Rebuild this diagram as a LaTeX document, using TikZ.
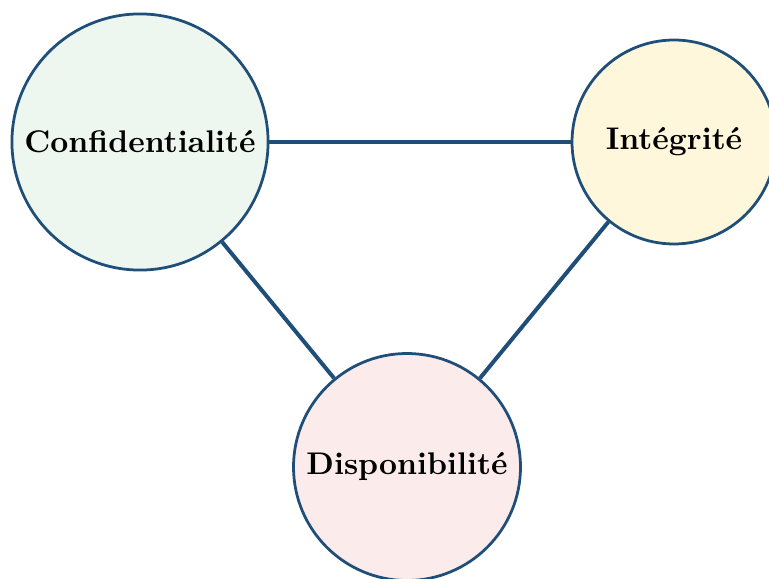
\documentclass[tikz,border=0pt]{standalone}
\usepackage{tikz}

\definecolor{cianavy}{RGB}{31,78,121}
\definecolor{confgreen}{RGB}{237,247,239}
\definecolor{integyellow}{RGB}{255,247,220}
\definecolor{disppink}{RGB}{251,235,235}

\begin{document}
\begin{tikzpicture}[x=0.326pt,y=-0.326pt]
  \tikzset{pillarstyle/.style={circle, draw=cianavy, line width=0.9pt, inner sep=0pt, font=\fontsize{10.2}{12}\selectfont\bfseries, align=center},
           linkstyle/.style={draw=cianavy, line width=1.3pt}}
  \useasboundingbox (0,0) rectangle (769,579);
  % The three pillars
  \node (conf) [pillarstyle, fill=confgreen, minimum size=83.5pt] at (140,142) {Confidentialité};
  \node (integ) [pillarstyle, fill=integyellow, minimum size=66.5pt] at (674,142) {Intégrité};
  \node (dispo) [pillarstyle, fill=disppink, minimum size=74pt] at (407,467) {Disponibilité};
  % Links between them
  \draw[linkstyle] (conf) -- (integ);
  \draw[linkstyle] (conf) -- (dispo);
  \draw[linkstyle] (integ) -- (dispo);
\end{tikzpicture}
\end{document}
